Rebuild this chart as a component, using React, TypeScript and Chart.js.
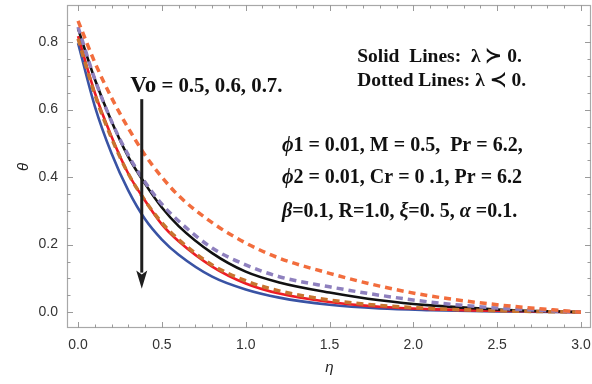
import React, { useEffect, useRef } from "react";
import { Chart, registerables } from "chart.js";

Chart.register(...registerables);

// η sample positions (x axis)
const etaValues = [0, 0.1, 0.2, 0.3, 0.4, 0.5, 0.6, 0.8, 1.0, 1.2, 1.5, 1.8, 2.1, 2.5, 3.0];

// θ values
const orangeDashed = [0.863, 0.74, 0.635, 0.545, 0.465, 0.4, 0.345, 0.265, 0.205, 0.16, 0.115, 0.077, 0.048, 0.022, 0.0];
const purpleDashed = [0.845, 0.69, 0.565, 0.465, 0.385, 0.32, 0.27, 0.19, 0.14, 0.105, 0.075, 0.05, 0.03, 0.012, 0.0];
const blackSolid = [0.84, 0.69, 0.565, 0.46, 0.38, 0.31, 0.255, 0.175, 0.12, 0.088, 0.058, 0.035, 0.02, 0.008, 0.0];
const brownDashed = [0.81, 0.645, 0.515, 0.41, 0.33, 0.265, 0.215, 0.14, 0.093, 0.063, 0.036, 0.02, 0.011, 0.004, 0.0];
const redSolid = [0.818, 0.65, 0.52, 0.41, 0.33, 0.26, 0.21, 0.135, 0.085, 0.055, 0.03, 0.016, 0.009, 0.004, 0.0];
const blueSolid = [0.797, 0.61, 0.47, 0.36, 0.275, 0.215, 0.17, 0.105, 0.067, 0.043, 0.022, 0.011, 0.006, 0.002, 0.0];

const xMajorTicks = [0, 0.5, 1.0, 1.5, 2.0, 2.5, 3.0];
const yMajorTicks = [0, 0.2, 0.4, 0.6, 0.8];

const toPts = (ys: number[]) => ys.map((y, i) => ({ x: etaValues[i], y }));

type Seg = { t: string; it?: boolean; size?: number };

function drawSegs(ctx: CanvasRenderingContext2D, x: number, y: number, segs: Seg[], size: number) {
  let cx = x;
  for (const s of segs) {
    const fs = s.size || size;
    ctx.font = `${s.it ? "italic " : ""}bold ${fs}px "Liberation Serif", "DejaVu Serif", serif`;
    ctx.fillText(s.t, cx, y);
    cx += ctx.measureText(s.t).width;
  }
}

const framePlugin = {
  id: "frameDecor",
  afterDatasetsDraw(chart: any) {
    const { ctx, chartArea: a, scales } = chart;
    const xs = scales.x;
    const ys = scales.y;
    ctx.save();
    // frame
    ctx.strokeStyle = "#a8a8a8";
    ctx.lineWidth = 1.2;
    ctx.strokeRect(a.left + 0.5, a.top + 0.5, a.right - a.left - 1, a.bottom - a.top - 1);
    // ticks
    ctx.strokeStyle = "#9a9a9a";
    ctx.lineWidth = 1;
    ctx.beginPath();
    for (let i = 0; i <= 30; i++) {
      const v = i / 10;
      const px = Math.round(xs.getPixelForValue(v)) + 0.5;
      const len = i % 5 === 0 ? 6 : 3.5;
      ctx.moveTo(px, a.bottom);
      ctx.lineTo(px, a.bottom - len);
      ctx.moveTo(px, a.top);
      ctx.lineTo(px, a.top + len);
    }
    for (let i = 0; i <= 17; i++) {
      const v = i * 0.05;
      const py = Math.round(ys.getPixelForValue(v)) + 0.5;
      const len = i % 4 === 0 ? 6 : 3.5;
      ctx.moveTo(a.left, py);
      ctx.lineTo(a.left + len, py);
      ctx.moveTo(a.right, py);
      ctx.lineTo(a.right - len, py);
    }
    ctx.stroke();

    // axis titles
    ctx.fillStyle = "#222";
    ctx.font = 'italic 15px "Liberation Sans", Arial, sans-serif';
    ctx.textAlign = "center";
    ctx.textBaseline = "middle";
    ctx.save();
    ctx.translate(24, ys.getPixelForValue(0.43));
    ctx.rotate(-Math.PI / 2);
    ctx.fillText("θ", 0, 0);
    ctx.restore();
    ctx.fillText("η", xs.getPixelForValue(1.5), 368);

    // arrow
    const ax = xs.getPixelForValue(0.38);
    const yTop = ys.getPixelForValue(0.631);
    const yTip = ys.getPixelForValue(0.069);
    const yBase = ys.getPixelForValue(0.123);
    ctx.strokeStyle = "#1e1e1e";
    ctx.fillStyle = "#1e1e1e";
    ctx.lineWidth = 3;
    ctx.beginPath();
    ctx.moveTo(ax, yTop);
    ctx.lineTo(ax, yBase + 2);
    ctx.stroke();
    ctx.beginPath();
    ctx.moveTo(ax - 5.5, yBase);
    ctx.lineTo(ax, yBase + 4);
    ctx.lineTo(ax + 5.5, yBase);
    ctx.lineTo(ax, yTip);
    ctx.closePath();
    ctx.fill();

    // annotations
    ctx.fillStyle = "#111";
    ctx.textAlign = "left";
    ctx.textBaseline = "alphabetic";
    drawSegs(ctx, xs.getPixelForValue(0.311), ys.getPixelForValue(0.653),
      [{ t: "Vo", size: 23 }, { t: " = 0.5, 0.6, 0.7." }], 20.8);
    const lx = xs.getPixelForValue(1.665);
    drawSegs(ctx, lx, ys.getPixelForValue(0.741), [{ t: "Solid  Lines:  λ ≻ 0." }], 19.5);
    drawSegs(ctx, lx, ys.getPixelForValue(0.67), [{ t: "Dotted Lines: λ ≺ 0." }], 19.5);
    const px = xs.getPixelForValue(1.216);
    drawSegs(ctx, px, ys.getPixelForValue(0.477),
      [{ t: "ϕ", it: true }, { t: "1 = 0.01, M = 0.5,  Pr = 6.2," }], 20);
    drawSegs(ctx, px, ys.getPixelForValue(0.382),
      [{ t: "ϕ", it: true }, { t: "2 = 0.01, Cr = 0 .1, Pr = 6.2" }], 20);
    drawSegs(ctx, px, ys.getPixelForValue(0.281),
      [{ t: "β", it: true }, { t: "=0.1, R=1.0, " }, { t: "ξ", it: true }, { t: "=0. 5, " },
       { t: "α", it: true }, { t: " =0.1." }], 20);
    ctx.restore();
  },
};

export default function App() {
  const ref = useRef<HTMLCanvasElement | null>(null);
  useEffect(() => {
    document.body.style.margin = "0";
    const canvas = ref.current;
    if (!canvas) return;
    const dashed = (label: string, data: number[], color: string) => ({
      label,
      data: toPts(data),
      borderColor: color,
      borderWidth: 3.5,
      borderDash: [7, 5],
      pointRadius: 0,
      cubicInterpolationMode: "monotone" as const,
      fill: false,
    });
    const solid = (label: string, data: number[], color: string) => ({
      label,
      data: toPts(data),
      borderColor: color,
      borderWidth: 2.6,
      pointRadius: 0,
      cubicInterpolationMode: "monotone" as const,
      fill: false,
    });
    const chart = new Chart(canvas, {
      type: "line",
      data: {
        datasets: [
          dashed("orange", orangeDashed, "#F26D3D"),
          dashed("purple", purpleDashed, "#8E80BE"),
          dashed("brown", brownDashed, "#C8742F"),
          solid("black", blackSolid, "#111111"),
          solid("red", redSolid, "#EE1C25"),
          solid("blue", blueSolid, "#3953A4"),
        ],
      },
      options: {
        animation: false,
        responsive: false,
        devicePixelRatio: 1,
        layout: { padding: { top: 5, right: 1, left: 0, bottom: 0 } },
        plugins: { legend: { display: false }, tooltip: { enabled: false } },
        scales: {
          x: {
            type: "linear",
            min: -0.066,
            max: 3.06,
            grid: { display: false, drawTicks: false },
            border: { display: false },
            afterFit: (s: any) => { s.height = 56; s.paddingLeft = 0; s.paddingRight = 0; },
            afterBuildTicks: (s: any) => { s.ticks = xMajorTicks.map((v) => ({ value: v })); },
            ticks: {
              padding: 9,
              maxRotation: 0,
              color: "#333",
              font: { family: '"Liberation Sans", Arial, sans-serif', size: 14 },
              callback: (v: any) => Number(v).toFixed(1),
            },
          },
          y: {
            type: "linear",
            min: -0.047,
            max: 0.91,
            grid: { display: false, drawTicks: false },
            border: { display: false },
            afterFit: (s: any) => { s.width = 67; s.paddingTop = 0; s.paddingBottom = 0; },
            afterBuildTicks: (s: any) => { s.ticks = yMajorTicks.map((v) => ({ value: v })); },
            ticks: {
              padding: 9,
              color: "#333",
              font: { family: '"Liberation Sans", Arial, sans-serif', size: 14 },
              callback: (v: any) => Number(v).toFixed(1),
            },
          },
        },
      },
      plugins: [framePlugin],
    });
    return () => chart.destroy();
  }, []);
  return (
    <div style={{ width: 592, height: 384, position: "relative", background: "#fff" }}>
      <canvas ref={ref} width={592} height={384} style={{ display: "block" }} />
    </div>
  );
}
